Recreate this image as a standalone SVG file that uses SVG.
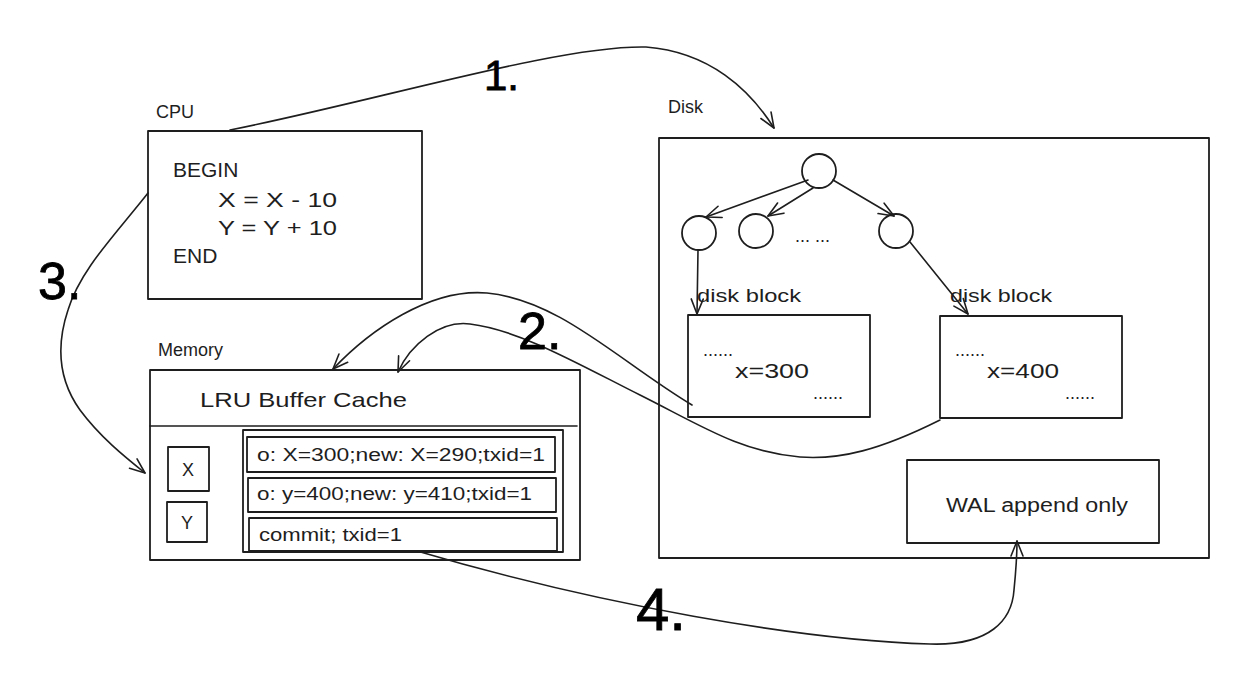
<svg xmlns="http://www.w3.org/2000/svg" width="1248" height="673" viewBox="0 0 1248 673">
<defs>
<style>
.box{fill:none;stroke:#1e1e1e;stroke-width:1.8;stroke-linejoin:round}
.ln{fill:none;stroke:#1e1e1e;stroke-width:1.6;stroke-linecap:round}
.t{font-family:"Liberation Sans",Arial,sans-serif;fill:#1e1e1e}
.num{font-family:"Liberation Sans",Arial,sans-serif;fill:#000;stroke:#000;stroke-width:0.8}
</style>
<marker id="ah" markerUnits="userSpaceOnUse" orient="auto" refX="0" refY="0" markerWidth="20" markerHeight="20" overflow="visible">
<path d="M-15,-6 L0,0 L-15,6" fill="none" stroke="#1e1e1e" stroke-width="1.6" stroke-linecap="round" stroke-linejoin="round"/>
</marker>
</defs>
<rect width="1248" height="673" fill="#fff"/>

<g id="cpu">
<text class="t" x="156" y="118" font-size="18">CPU</text>
<rect class="box" x="148" y="131" width="274" height="168"/>
<text class="t" x="173" y="177" font-size="21">BEGIN</text>
<text class="t" x="218" y="207" font-size="21" textLength="119" lengthAdjust="spacingAndGlyphs">X = X - 10</text>
<text class="t" x="218" y="235" font-size="21" textLength="119" lengthAdjust="spacingAndGlyphs">Y = Y + 10</text>
<text class="t" x="173" y="263" font-size="21">END</text>
</g>

<g id="memory">
<text class="t" x="158" y="356" font-size="18">Memory</text>
<rect class="box" x="150" y="370" width="430" height="190"/>
<line class="ln" x1="150" y1="426" x2="577" y2="426"/>
<text class="t" x="200" y="407" font-size="21" textLength="207" lengthAdjust="spacingAndGlyphs">LRU Buffer Cache</text>
</g>

<g id="cache-x">
<rect class="box" x="168" y="447" width="41" height="44"/>
<text class="t" x="188" y="476" font-size="18" text-anchor="middle">X</text>
</g>
<g id="cache-y">
<rect class="box" x="167" y="502" width="40" height="40"/>
<text class="t" x="187" y="529" font-size="18" text-anchor="middle">Y</text>
</g>

<g id="log">
<rect class="box" x="243" y="430" width="320" height="122"/>
<g id="log-1">
<rect class="box" x="247" y="437" width="308" height="35"/>
<text class="t" x="257" y="461" font-size="18" textLength="288" lengthAdjust="spacingAndGlyphs">o: X=300;new: X=290;txid=1</text>
</g>
<g id="log-2">
<rect class="box" x="248" y="478" width="308" height="34"/>
<text class="t" x="257" y="500" font-size="18" textLength="275" lengthAdjust="spacingAndGlyphs">o: y=400;new: y=410;txid=1</text>
</g>
<g id="log-3">
<rect class="box" x="249" y="518" width="308" height="33"/>
<text class="t" x="259" y="541" font-size="18" textLength="143" lengthAdjust="spacingAndGlyphs">commit; txid=1</text>
</g>
</g>

<g id="disk">
<text class="t" x="668" y="113" font-size="18">Disk</text>
<rect class="box" x="659" y="138" width="550" height="420"/>
</g>

<g id="tree">
<circle class="box" cx="819" cy="171" r="17"/>
<circle class="box" cx="699" cy="233" r="17"/>
<circle class="box" cx="756" cy="231" r="17"/>
<circle class="box" cx="896" cy="231" r="17"/>
<text class="t" x="795" y="242" font-size="18">... ...</text>
</g>

<g id="block1">
<text class="t" x="697" y="302" font-size="18" textLength="104" lengthAdjust="spacingAndGlyphs">disk block</text>
<rect class="box" x="688" y="315" width="182" height="102"/>
<text class="t" x="703" y="356" font-size="18">......</text>
<text class="t" x="735" y="378" font-size="20" textLength="74" lengthAdjust="spacingAndGlyphs">x=300</text>
<text class="t" x="813" y="399" font-size="18">......</text>
</g>

<g id="block2">
<text class="t" x="950" y="302" font-size="18" textLength="102" lengthAdjust="spacingAndGlyphs">disk block</text>
<rect class="box" x="940" y="316" width="182" height="102"/>
<text class="t" x="955" y="356" font-size="18">......</text>
<text class="t" x="987" y="378" font-size="20" textLength="72" lengthAdjust="spacingAndGlyphs">x=400</text>
<text class="t" x="1065" y="399" font-size="18">......</text>
</g>

<g id="wal">
<rect class="box" x="907" y="460" width="252" height="83"/>
<text class="t" x="946" y="512" font-size="20" textLength="182" lengthAdjust="spacingAndGlyphs">WAL append only</text>
</g>

<g id="connectors">
<path class="ln" d="M808,180 L706,217" marker-end="url(#ah)"/>
<path class="ln" d="M813,188 L768,216" marker-end="url(#ah)"/>
<path class="ln" d="M833,180 L894,216" marker-end="url(#ah)"/>
<path class="ln" d="M698,250 L697,314" marker-end="url(#ah)"/>
<path class="ln" d="M910,242 L968,314" marker-end="url(#ah)"/>
<path class="ln" d="M230,130 C380,100 560,45 646,47 C710,52 750,90 774,128" marker-end="url(#ah)"/>
<path class="ln" d="M148,193 C115,235 80,270 68,310 C58,340 55,375 80,410 C100,437 125,457 145,473" marker-end="url(#ah)"/>
<path class="ln" d="M692,405 C620,362 560,300 487,293 C430,288 370,330 333,369" marker-end="url(#ah)"/>
<path class="ln" d="M940,420 C880,450 840,460 800,457 C740,452 700,425 640,395 C580,365 520,330 470,324 C440,320 410,345 398,372" marker-end="url(#ah)"/>
<path class="ln" d="M417,551 C600,605 800,640 930,644 C990,646 1012,620 1014,590 C1016,570 1017,555 1017,541" marker-end="url(#ah)"/>
</g>

<g id="labels">
<text class="num" x="484" y="90" font-size="42">1.</text>
<text class="num" x="518" y="349" font-size="52">2.</text>
<text class="num" x="38" y="299" font-size="52">3.</text>
<text class="num" x="636" y="630" font-size="60">4.</text>
</g>
</svg>
